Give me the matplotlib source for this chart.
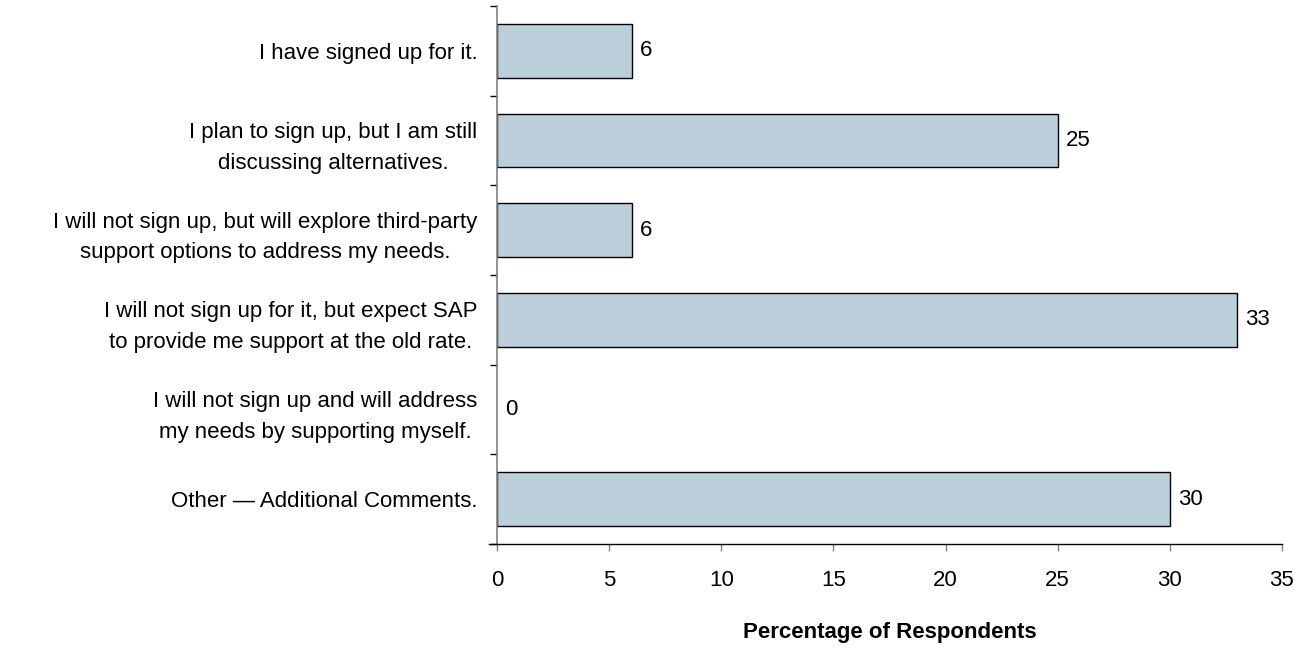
import numpy as np
import matplotlib
matplotlib.use("Agg")
import matplotlib.pyplot as plt

plt.rcParams['font.family'] = ['Liberation Sans', 'DejaVu Sans']

# survey answers, top to bottom
categories = [
    "I have signed up for it.",
    "I plan to sign up, but I am still\ndiscussing alternatives.",
    "I will not sign up, but will explore third-party\nsupport options to address my needs.",
    "I will not sign up for it, but expect SAP\nto provide me support at the old rate.",
    "I will not sign up and will address\nmy needs by supporting myself.",
    "Other \u2014 Additional Comments.",
]
percentages = [6, 25, 6, 33, 0, 30]
x_ticks = [0, 5, 10, 15, 20, 25, 30, 35]

BAR_COLOUR = '#BBCFDB'
FONT_SIZE = 16

fig = plt.figure(figsize=(12.99, 6.51), dpi=100)
ax = fig.add_axes([0.3826, 0.1644, 0.6043, 0.8264])

n = len(categories)
y_pos = np.arange(n)
edge_widths = [1.0 if v > 0 else 0.0 for v in percentages]
ax.barh(y_pos, percentages, height=0.6, color=BAR_COLOUR,
        edgecolor='black', linewidth=edge_widths)

# value labels next to each bar
for y, v in zip(y_pos, percentages):
    ax.annotate(f"{v}", xy=(v, y), xytext=(6, 0), textcoords='offset points',
                ha='left', va='center', fontsize=FONT_SIZE)

# y axis: labels at bar centres, tick marks between categories
ax.set_ylim(n - 0.5, -0.5)
ax.set_yticks(y_pos)
ax.set_yticklabels(categories, fontsize=FONT_SIZE, multialignment='center',
                   linespacing=1.6)
ax.tick_params(axis='y', which='major', length=0, pad=14)
ax.set_yticks(np.arange(n + 1) - 0.5, minor=True)
ax.tick_params(axis='y', which='minor', length=5, width=1.0,
               direction='out', color='black')

# x axis
ax.set_xlim(0, 35)
ax.set_xticks(x_ticks)
ax.tick_params(axis='x', length=5, width=1.0, direction='out',
               color='#808080', labelsize=FONT_SIZE, pad=14)
ax.set_xlabel('Percentage of Respondents', fontsize=FONT_SIZE,
              fontweight='bold', labelpad=22)

for side in ['top', 'right']:
    ax.spines[side].set_visible(False)
ax.spines['left'].set_color('#808080')
ax.spines['left'].set_linewidth(1.2)
ax.spines['bottom'].set_color('black')
ax.spines['bottom'].set_linewidth(1.0)
ax.spines['bottom'].set_bounds(-0.35, 35)

fig.savefig('out.png', dpi=100)
